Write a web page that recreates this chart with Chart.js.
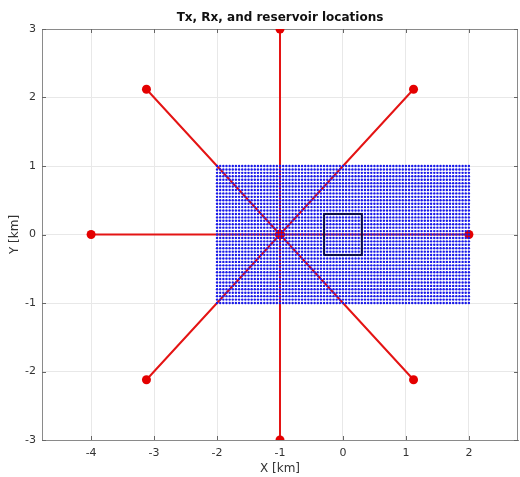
<!DOCTYPE html>
<html lang="en">
<head>
  <meta charset="UTF-8">
  <title>Tx, Rx, and reservoir locations</title>
  <script src="https://cdn.jsdelivr.net/npm/chart.js"></script>
  <style>
    body { margin: 0; background: #fff; }
    canvas { display: block; }
  </style>
</head>
<body>
  <canvas id="locChart" width="520" height="477"></canvas>

  <script>
    // source at the centre, receivers on a ring of radius 3 km
    const srcX = -1;
    const srcY = 0;
    const recX = [2, 1.121, -1, -3.121, -4, -3.121, -1, 1.121];
    const recY = [0, 2.121, 3, 2.121, 0, -2.121, -3, -2.121];

    // reservoir cell centres (km)
    const gridX = [-2, -1.95, -1.9, -1.85, -1.8, -1.75, -1.7, -1.65, -1.6, -1.55,
      -1.5, -1.45, -1.4, -1.35, -1.3, -1.25, -1.2, -1.15, -1.1, -1.05,
      -1, -0.95, -0.9, -0.85, -0.8, -0.75, -0.7, -0.65, -0.6, -0.55,
      -0.5, -0.45, -0.4, -0.35, -0.3, -0.25, -0.2, -0.15, -0.1, -0.05,
      0, 0.05, 0.1, 0.15, 0.2, 0.25, 0.3, 0.35, 0.4, 0.45,
      0.5, 0.55, 0.6, 0.65, 0.7, 0.75, 0.8, 0.85, 0.9, 0.95,
      1, 1.05, 1.1, 1.15, 1.2, 1.25, 1.3, 1.35, 1.4, 1.45,
      1.5, 1.55, 1.6, 1.65, 1.7, 1.75, 1.8, 1.85, 1.9, 1.95, 2];
    const gridY = [-1, -0.95, -0.9, -0.85, -0.8, -0.75, -0.7, -0.65, -0.6, -0.55,
      -0.5, -0.45, -0.4, -0.35, -0.3, -0.25, -0.2, -0.15, -0.1, -0.05,
      0, 0.05, 0.1, 0.15, 0.2, 0.25, 0.3, 0.35, 0.4, 0.45,
      0.5, 0.55, 0.6, 0.65, 0.7, 0.75, 0.8, 0.85, 0.9, 0.95, 1];

    // target box outline
    const boxX = [-0.3, 0.3, 0.3, -0.3, -0.3];
    const boxY = [-0.3, -0.3, 0.3, 0.3, -0.3];

    const xTicks = [-4, -3, -2, -1, 0, 1, 2];
    const yTicks = [-3, -2, -1, 0, 1, 2, 3];
    const xRange = [-4.78, 2.78];
    const yRange = [-3, 3];

    // star: centre -> receiver -> centre ...
    const starPts = [{ x: srcX, y: srcY }];
    recX.forEach((x, i) => {
      starPts.push({ x: x, y: recY[i] });
      starPts.push({ x: srcX, y: srcY });
    });

    const cellPts = [];
    gridX.forEach(x => gridY.forEach(y => cellPts.push({ x: x, y: y })));

    const boxPts = boxX.map((x, i) => ({ x: x, y: boxY[i] }));

    const axisColor = '#8a8a8a';
    const textColor = '#333';
    const fontFam = '"DejaVu Sans", sans-serif';

    // closes the box on top/right and adds MATLAB-style inward ticks
    const frame = {
      id: 'frame',
      beforeDatasetsDraw(chart) {
        const { ctx, chartArea: a, scales } = chart;
        ctx.save();
        ctx.strokeStyle = axisColor;
        ctx.lineWidth = 1;
        ctx.beginPath();
        ctx.moveTo(a.left, a.top + 0.5);
        ctx.lineTo(a.right - 0.5, a.top + 0.5);
        ctx.lineTo(a.right - 0.5, a.bottom);
        ctx.stroke();
        ctx.strokeStyle = '#666';
        ctx.beginPath();
        xTicks.forEach(v => {
          const px = Math.round(scales.x.getPixelForValue(v)) + 0.5;
          ctx.moveTo(px, a.bottom); ctx.lineTo(px, a.bottom - 4);
          ctx.moveTo(px, a.top); ctx.lineTo(px, a.top + 4);
        });
        yTicks.forEach(v => {
          const py = Math.round(scales.y.getPixelForValue(v)) + 0.5;
          ctx.moveTo(a.left, py); ctx.lineTo(a.left + 4, py);
          ctx.moveTo(a.right, py); ctx.lineTo(a.right - 4, py);
        });
        ctx.stroke();
        ctx.restore();
      },
      afterDraw(chart) {
        const { ctx, chartArea: a } = chart;
        ctx.save();
        ctx.fillStyle = '#111';
        ctx.font = 'bold 12px ' + fontFam;
        ctx.textAlign = 'center';
        ctx.textBaseline = 'middle';
        ctx.fillText('Tx, Rx, and reservoir locations', (a.left + a.right) / 2, 17.5);
        ctx.restore();
      }
    };

    const ctx = document.getElementById('locChart').getContext('2d');
    new Chart(ctx, {
      type: 'scatter',
      data: {
        datasets: [
          {
            label: 'box',
            data: boxPts,
            showLine: true,
            borderColor: '#0c0c50',
            borderWidth: 2,
            pointRadius: 0,
            order: 1
          },
          {
            label: 'reservoir',
            data: cellPts,
            backgroundColor: 'rgb(25,25,232)',
            borderWidth: 0,
            pointRadius: 1.2,
            order: 2
          },
          {
            label: 'Tx/Rx',
            data: starPts,
            showLine: true,
            borderColor: 'rgb(228,20,20)',
            backgroundColor: 'rgb(228,0,0)',
            borderWidth: 2,
            pointRadius: 4.5,
            pointBorderWidth: 0,
            order: 3
          }
        ]
      },
      options: {
        responsive: false,
        animation: false,
        events: [],
        layout: { autoPadding: false, padding: { top: 29, right: 2, left: 0, bottom: 0 } },
        plugins: {
          legend: { display: false },
          tooltip: { enabled: false }
        },
        scales: {
          x: {
            type: 'linear',
            min: xRange[0],
            max: xRange[1],
            afterBuildTicks: s => { s.ticks = xTicks.map(v => ({ value: v })); },
            afterFit: s => { s.height = 37; s.paddingLeft = 0; s.paddingRight = 0; },
            grid: { color: '#e8e8e8', drawTicks: false },
            border: { color: axisColor },
            ticks: { color: textColor, padding: 7, font: { family: fontFam, size: 11 } },
            title: {
              display: true, text: 'X [km]', color: textColor,
              padding: { top: 0, bottom: 1 },
              font: { family: fontFam, size: 12 }
            }
          },
          y: {
            type: 'linear',
            min: yRange[0],
            max: yRange[1],
            afterBuildTicks: s => { s.ticks = yTicks.map(v => ({ value: v })); },
            afterFit: s => { s.width = 42; s.paddingTop = 0; s.paddingBottom = 0; },
            grid: { color: '#e8e8e8', drawTicks: false },
            border: { color: axisColor },
            ticks: { color: textColor, padding: 6, font: { family: fontFam, size: 11 } },
            title: {
              display: true, text: 'Y [km]', color: textColor,
              padding: { top: 8, bottom: 0 },
              font: { family: fontFam, size: 12 }
            }
          }
        }
      },
      plugins: [frame]
    });
  </script>
</body>
</html>
